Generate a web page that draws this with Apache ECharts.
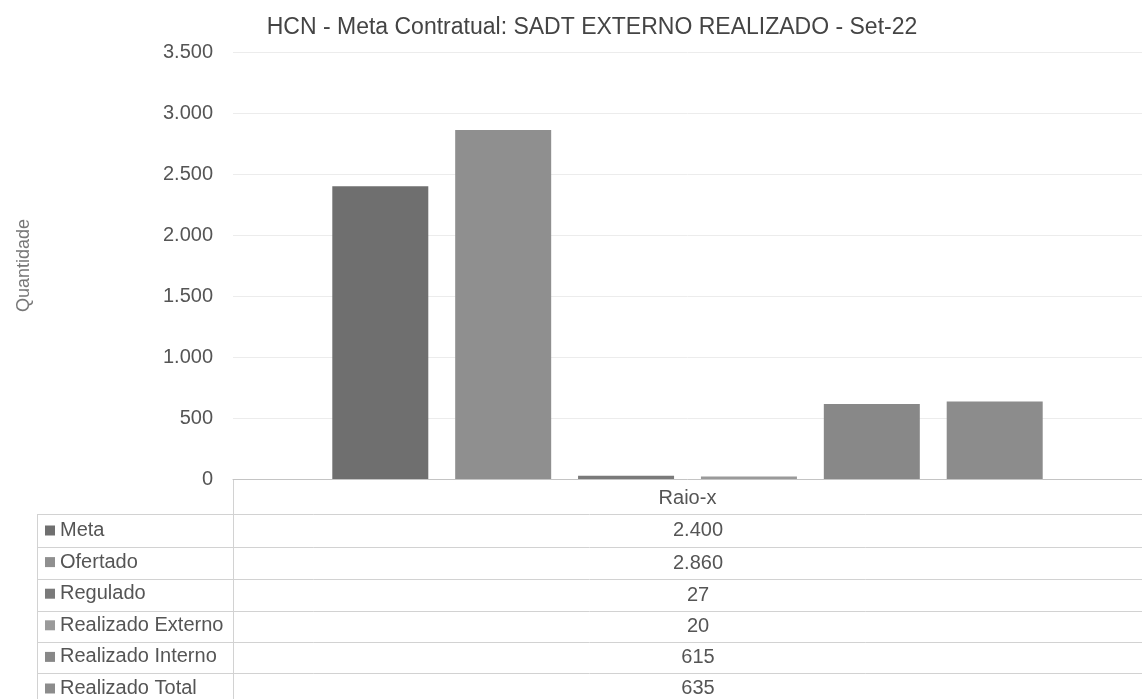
<!DOCTYPE html>
<html>
<head>
<meta charset="utf-8">
<style>
  html, body { margin: 0; padding: 0; background: #ffffff; }
  #chart { width: 1142px; height: 699px; }
</style>
<script src="https://cdn.jsdelivr.net/npm/echarts@6/dist/echarts.min.js"></script>
</head>
<body>
<div id="chart"></div>
<script>
// ---- Data ----
const titleText = 'HCN - Meta Contratual: SADT EXTERNO REALIZADO - Set-22';
const categories = ['Raio-x'];
const seriesNames = ['Meta', 'Ofertado', 'Regulado', 'Realizado Externo', 'Realizado Interno', 'Realizado Total'];
const meta = [2400];
const ofertado = [2860];
const regulado = [27];
const realizadoExterno = [20];
const realizadoInterno = [615];
const realizadoTotal = [635];
const seriesValues = [meta, ofertado, regulado, realizadoExterno, realizadoInterno, realizadoTotal];
const yAxisName = 'Quantidade';

// ---- Styles ----
const colors = ['#6f6f6f', '#8f8f8f', '#7a7a7a', '#9a9a9a', '#888888', '#8c8c8c'];
const FONT = 'Liberation Sans, Arial, sans-serif';
const TEXT = '#555555';
const LINE = '#d2d2d2';

function fmt(v) {
  return String(v).replace(/\B(?=(\d{3})+(?!\d))/g, '.');
}

const gridLeft = 233, gridTop = 52, gridHeight = 427, gridWidth = 930;
const axisY = gridTop + gridHeight;           // 479
const rowLines = [514, 547, 579, 611, 642, 673];
const rowCenters = [530.5, 563, 595, 626.5, 657.5, 688.5];
const colCenter = gridLeft + gridWidth / 2;

const chart = echarts.init(document.getElementById('chart'), null, { renderer: 'canvas' });

const graphics = [];
rowLines.forEach(function (y) {
  graphics.push({ type: 'line', silent: true, shape: { x1: 37, y1: y + 0.5, x2: 1142, y2: y + 0.5 },
    style: { stroke: LINE, lineWidth: 1 } });
});
graphics.push({ type: 'line', silent: true, shape: { x1: gridLeft + 0.5, y1: axisY, x2: gridLeft + 0.5, y2: 699 },
  style: { stroke: LINE, lineWidth: 1 } });
graphics.push({ type: 'line', silent: true, shape: { x1: 37.5, y1: rowLines[0], x2: 37.5, y2: 699 },
  style: { stroke: LINE, lineWidth: 1 } });
seriesValues.forEach(function (arr, i) {
  graphics.push({ type: 'text', silent: true, x: colCenter, y: rowCenters[i],
    style: { text: fmt(arr[0]), fill: TEXT, font: '20px ' + FONT, align: 'center', verticalAlign: 'middle' } });
});

const option = {
  backgroundColor: '#ffffff',
  animation: false,
  color: colors,
  title: {
    text: titleText,
    left: 587, top: 11,
    textAlign: 'center',
    textStyle: { fontFamily: FONT, fontSize: 23, fontWeight: 'normal', color: '#444444' }
  },
  legend: {
    data: seriesNames,
    orient: 'vertical',
    left: 45, top: rowCenters[0] - 10,
    height: 180,
    padding: 0,
    itemWidth: 10, itemHeight: 10,
    itemGap: 11.6,
    icon: 'rect',
    selectedMode: false,
    textStyle: { fontFamily: FONT, fontSize: 20, lineHeight: 20, color: TEXT }
  },
  grid: { left: gridLeft, top: gridTop, width: gridWidth, height: gridHeight, containLabel: false },
  xAxis: {
    type: 'category',
    data: categories,
    axisLine: { show: true, lineStyle: { color: '#c4c4c4', width: 1 } },
    axisTick: { show: false },
    axisLabel: { fontFamily: FONT, fontSize: 20, color: TEXT, margin: 9 }
  },
  yAxis: {
    type: 'value',
    min: 0, max: 3500, interval: 500,
    name: yAxisName,
    nameLocation: 'middle',
    nameGap: 200,
    nameTextStyle: { fontFamily: FONT, fontSize: 18, color: '#777777' },
    axisLine: { show: false },
    axisTick: { show: false },
    axisLabel: { fontFamily: FONT, fontSize: 20, color: TEXT, margin: 20, formatter: fmt },
    splitLine: { lineStyle: { color: '#ececec', width: 1 } }
  },
  series: seriesNames.map(function (name, i) {
    return {
      name: name,
      type: 'bar',
      data: seriesValues[i],
      barWidth: 96,
      barGap: '28%',
      itemStyle: { color: colors[i] }
    };
  }),
  graphic: graphics
};

chart.setOption(option);
</script>
</body>
</html>
